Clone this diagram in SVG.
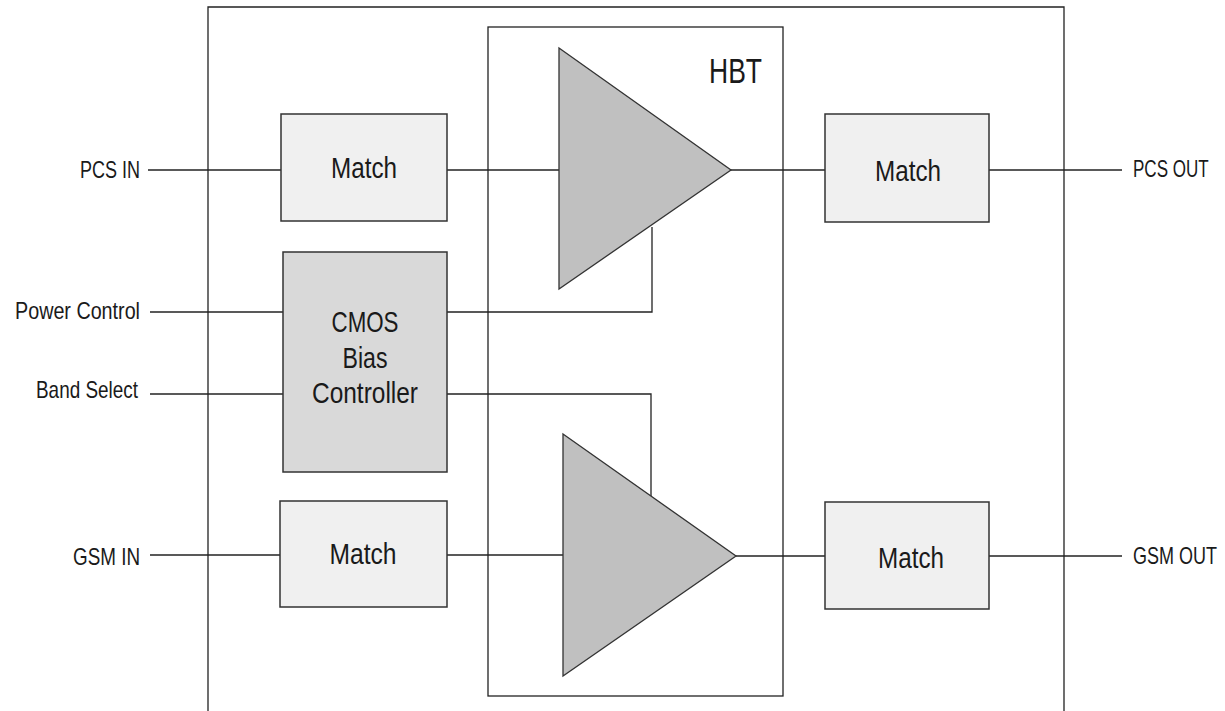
<svg xmlns="http://www.w3.org/2000/svg" width="1225" height="711" viewBox="0 0 1225 711">
<style>
.frame{fill:none;stroke:#222;stroke-width:1.3}
.match{fill:#f0f0f0;stroke:#333;stroke-width:1.5}
.cmos{fill:#d9d9d9;stroke:#333;stroke-width:1.5}
.amp{fill:#c0c0c0;stroke:#333;stroke-width:1.3;stroke-linejoin:miter}
.wire{fill:none;stroke:#222;stroke-width:1.3}
text{font-family:"Liberation Sans",Arial,sans-serif;fill:#1a1a1a}
.lbl{font-size:24px}
.box{font-size:30px;text-anchor:middle}
</style>
<rect width="1225" height="711" fill="#fff"/>
<g id="module">
<path class="frame" d="M208,711 V7 H1064 V711"/>
</g>
<g id="hbt">
<rect class="frame" x="488" y="27" width="295" height="669"/>
<text x="709" y="83" style="font-size:35px" textLength="53" lengthAdjust="spacingAndGlyphs">HBT</text>
</g>
<g id="connectors">
<path class="wire" d="M148,170 H281"/>
<path class="wire" d="M447,170 H559"/>
<path class="wire" d="M731,170 H825"/>
<path class="wire" d="M989,170 H1122"/>
<path class="wire" d="M150,312 H283"/>
<path class="wire" d="M447,312 H652 V227"/>
<path class="wire" d="M150,394 H283"/>
<path class="wire" d="M447,394 H651 V497"/>
<path class="wire" d="M150,555 H280"/>
<path class="wire" d="M447,555 H563"/>
<path class="wire" d="M736,556 H825"/>
<path class="wire" d="M989,556 H1122"/>
</g>
<g id="amp-pcs">
<polygon class="amp" points="559,48 731,170 559,289"/>
</g>
<g id="amp-gsm">
<polygon class="amp" points="563,434 736,556 563,676"/>
</g>
<g id="match-pcs-in">
<rect class="match" x="281" y="114" width="166" height="107"/>
<text class="box" x="364" y="178" textLength="66" lengthAdjust="spacingAndGlyphs">Match</text>
</g>
<g id="match-pcs-out">
<rect class="match" x="825" y="114" width="164" height="108"/>
<text class="box" x="908" y="181" textLength="66" lengthAdjust="spacingAndGlyphs">Match</text>
</g>
<g id="match-gsm-in">
<rect class="match" x="280" y="501" width="167" height="106"/>
<text class="box" x="363" y="564" textLength="67" lengthAdjust="spacingAndGlyphs">Match</text>
</g>
<g id="match-gsm-out">
<rect class="match" x="825" y="502" width="164" height="107"/>
<text class="box" x="911" y="568" textLength="66" lengthAdjust="spacingAndGlyphs">Match</text>
</g>
<g id="cmos-bias">
<rect class="cmos" x="283" y="252" width="164" height="220"/>
<text class="box" x="365" y="332" textLength="67" lengthAdjust="spacingAndGlyphs">CMOS</text>
<text class="box" x="365" y="368" textLength="45" lengthAdjust="spacingAndGlyphs">Bias</text>
<text class="box" x="365" y="403" textLength="106" lengthAdjust="spacingAndGlyphs">Controller</text>
</g>
<g id="labels">
<text class="lbl" x="80" y="178" textLength="60" lengthAdjust="spacingAndGlyphs">PCS IN</text>
<text class="lbl" x="15" y="319" textLength="125" lengthAdjust="spacingAndGlyphs">Power Control</text>
<text class="lbl" x="36" y="398" textLength="102" lengthAdjust="spacingAndGlyphs">Band Select</text>
<text class="lbl" x="73" y="565" textLength="67" lengthAdjust="spacingAndGlyphs">GSM IN</text>
<text class="lbl" transform="translate(1133,177) scale(0.71,1)">PCS OUT</text>
<text class="lbl" transform="translate(1133,564) scale(0.75,1)">GSM OUT</text>
</g>
</svg>
